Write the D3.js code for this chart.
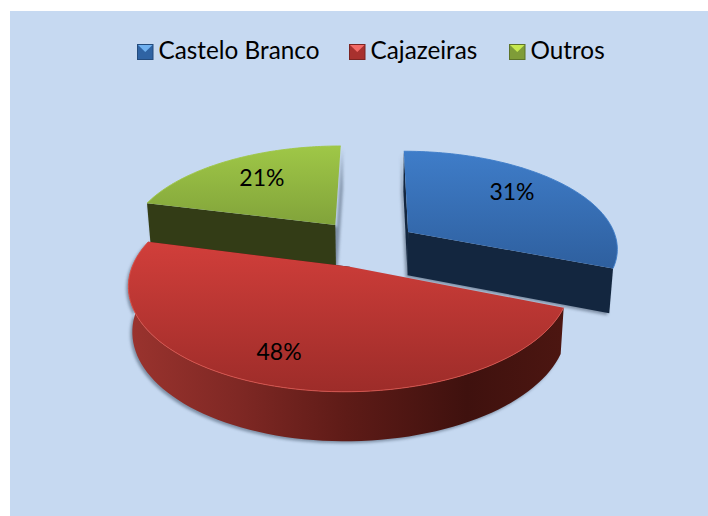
<!DOCTYPE html>
<html><head><meta charset="utf-8">
<script src="https://cdn.jsdelivr.net/npm/d3@7"></script>
<style>html,body{margin:0;padding:0;background:#fff}svg{display:block}text{font-family:Lato,"Open Sans",sans-serif;fill:#000}</style>
</head><body><div id="c"></div>
<script>
const categories = ["Castelo Branco", "Cajazeiras", "Outros"];
const values = [31, 48, 21];

const W = 708, H = 516;
const svg = d3.select("#c").append("svg").attr("width", W).attr("height", H);
svg.append("rect").attr("x", 10).attr("y", 11).attr("width", W - 10).attr("height", H - 11).attr("fill", "#c6d9f1");
const defs = svg.append("defs");

// perspective projection of the tilted pie plane
const px0 = 376, py0 = 250, S = 212, T = 99, K = 0.16;
function project(X, Y) {
  const w = 1 / (1 - K * Y);
  return { x: px0 + S * X * w, y: py0 + T * Y * w, w };
}
function drop(p) {
  return [px0 + (p.x - px0) * 0.984, p.y + 20 + 24 * p.w];
}
// exploded apex of each slice in the pie plane
const apex = [[0.156, -0.187], [-0.12, 0.165], [-0.2, -0.263]];
const faces = [
  { top: ["#3f7dc9", "#2b5a97"], y: [150, 290], cut: "#13263f", rim: "#3f7dc9" },
  { top: ["#d03e3a", "#9d2c29"], y: [245, 392], cut: "#42120f", rim: "#d9544c" },
  { top: ["#9fc747", "#7a9a37"], y: [146, 245], cut: "#333c16", rim: "#9fc747" }
];
const swatch = [["#6fb0ef", "#2f63a3", "#234b7d"], ["#f26a66", "#a8312e", "#7c2422"], ["#c6e84f", "#7f9c38", "#5d7429"]];

const pie = d3.pie().sort(null).value(d => d)(values);
const line = d3.line();

faces.forEach((f, i) => {
  const g = defs.append("linearGradient").attr("id", "top" + i).attr("gradientUnits", "userSpaceOnUse")
    .attr("x1", 0).attr("x2", 0).attr("y1", f.y[0]).attr("y2", f.y[1]);
  g.append("stop").attr("offset", 0).attr("stop-color", f.top[0]);
  g.append("stop").attr("offset", 1).attr("stop-color", f.top[1]);
});
const wallGrad = defs.append("linearGradient").attr("id", "wall1").attr("gradientUnits", "userSpaceOnUse")
  .attr("x1", 130).attr("x2", 562).attr("y1", 0).attr("y2", 0);
[[0, "#9a332e"], [0.25, "#7f2824"], [0.5, "#5e1b17"], [0.78, "#3f110e"], [1, "#4c1611"]]
  .forEach(s => wallGrad.append("stop").attr("offset", s[0]).attr("stop-color", s[1]));
defs.append("filter").attr("id", "blur").attr("x", "-10%").attr("y", "-10%").attr("width", "120%").attr("height", "120%")
  .append("feGaussianBlur").attr("stdDeviation", 1.4);

function arcPoints(i) {
  const d = pie[i], [ax, ay] = apex[i];
  return d3.range(0, 81).map(t => {
    const a = d.startAngle + (d.endAngle - d.startAngle) * t / 80;
    return project(ax + Math.sin(a), ay - Math.cos(a));
  });
}
[2, 0, 1].forEach(i => {
  const arc = arcPoints(i), c = project(apex[i][0], apex[i][1]);
  const arcXY = arc.map(p => [p.x, p.y]);
  const topPts = [[c.x, c.y], ...arcXY];
  const botArc = arc.map(drop), botC = drop(c);
  const g = svg.append("g").attr("class", "slice");
  // soft shadow
  const shadowShape = i === 1
    ? [...arcXY, ...botArc.slice().reverse(), botC, [c.x, c.y]]
    : [[c.x, c.y], arcXY[0], botArc[0], botC, botArc[80], arcXY[80]];
  g.append("path").attr("d", line(shadowShape) + "Z")
    .attr("transform", `translate(${i === 2 ? 1.5 : -2},2)`).attr("fill", "#5f6f85").attr("opacity", 0.7).attr("filter", "url(#blur)");
  // walls
  if (i === 1) {
    g.append("path").attr("d", line([...arcXY, ...botArc.slice().reverse()]) + "Z").attr("fill", "url(#wall1)");
  }
  if (i === 0) {
    g.append("path").attr("d", line([[c.x, c.y], arcXY[0], botArc[0], botC]) + "Z").attr("fill", faces[i].cut);
  }
  if (i !== 2) {
    g.append("path").attr("d", line([[c.x, c.y], arcXY[80], botArc[80], botC]) + "Z").attr("fill", faces[i].cut);
  } else {
    g.append("path").attr("d", line([[c.x, c.y], arcXY[0], botArc[0], botC]) + "Z").attr("fill", faces[i].cut);
  }
  // top face
  g.append("path").attr("d", line(topPts) + "Z").attr("fill", `url(#top${i})`);
  g.append("path").attr("d", line(arcXY)).attr("fill", "none")
    .attr("stroke", faces[i].rim).attr("stroke-width", 1).attr("opacity", 0.9);
});

// data labels, anchored in the pie plane
const labelPos = [[0.709, -0.659], [-0.393, 0.877], [-0.61, -0.836]];
values.forEach((v, i) => {
  const p = project(labelPos[i][0], labelPos[i][1]);
  svg.append("text").attr("x", p.x).attr("y", p.y).attr("text-anchor", "middle").attr("dominant-baseline", "central")
    .attr("font-size", 23).text(v + "%");
});

// legend
const legendX = [137, 349, 509];
categories.forEach((name, i) => {
  const g = svg.append("g").attr("transform", `translate(${legendX[i]},44)`);
  g.append("rect").attr("width", 16.5).attr("height", 16).attr("fill", swatch[i][2]);
  g.append("rect").attr("x", 1).attr("y", 1).attr("width", 14.5).attr("height", 14).attr("fill", swatch[i][1]);
  g.append("path").attr("d", line([[1, 1], [15.5, 1], [8.25, 8]]) + "Z").attr("fill", swatch[i][0]);
  g.append("text").attr("x", 21.5).attr("y", 15).attr("font-size", 24.3).text(name);
});
</script></body></html>
